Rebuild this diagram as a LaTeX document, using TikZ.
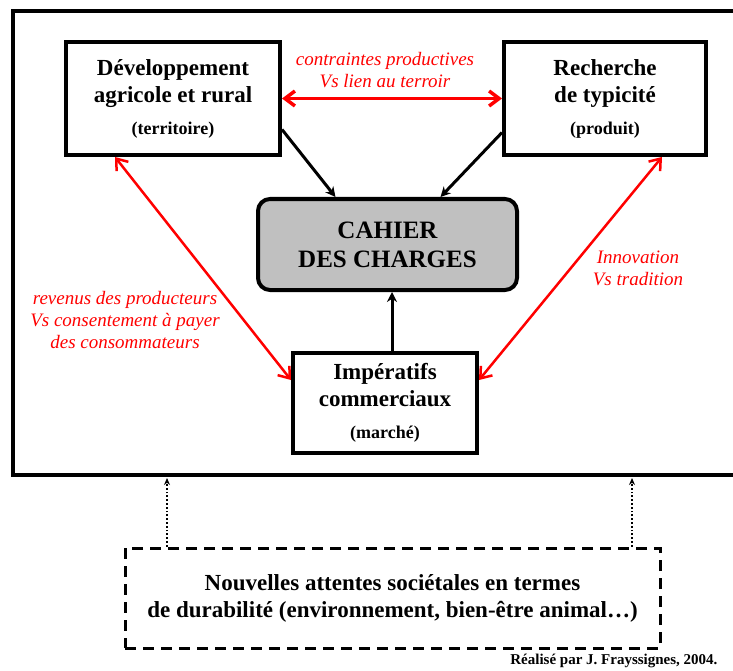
\documentclass[tikz,border=0pt]{standalone}
\usepackage{fontspec}
\setmainfont{Liberation Serif}
\definecolor{cdcred}{RGB}{255,0,0}
\definecolor{cdcgray}{RGB}{192,192,192}
\usetikzlibrary{arrows.meta,positioning}

\begin{document}
\begin{tikzpicture}[x=1pt,y=-1pt,
  pole/.style={draw, line width=4pt, fill=white, align=center, inner sep=0pt,
    font=\bfseries\fontsize{23}{27}\selectfont},
  conflit/.style={cdcred, align=center, font=\itshape\fontsize{19}{22}\selectfont},
  redlink/.style={cdcred, line width=2.5pt, {Straight Barb[length=10pt,width=15pt]}-{Straight Barb[length=10pt,width=15pt]}},
  blacklink/.style={black, line width=3pt, -{Stealth[length=10pt,width=10pt]}}]
\useasboundingbox (0,0) rectangle (733,671);
% cadre du systeme
\draw[line width=4pt] (740,11) -- (13,11) -- (13,475) -- (740,475);
% les trois poles
\node[pole, minimum width=214, minimum height=113] (dev) at (173,98.5)
  {D\'eveloppement\\agricole et rural\\[5pt]{\fontsize{18}{21}\selectfont(territoire)}};
\node[pole, minimum width=202, minimum height=113] (typi) at (605,98.5)
  {Recherche\\de typicit\'e\\[5pt]{\fontsize{18}{21}\selectfont(produit)}};
\node[pole, minimum width=184, minimum height=100] (imper) at (385,403)
  {Imp\'eratifs\\commerciaux\\[5pt]{\fontsize{18}{21}\selectfont(march\'e)}};
\node[pole, fill=cdcgray, rounded corners=12pt, minimum width=259, minimum height=91,
      font=\bfseries\fontsize{25}{29}\selectfont] (cahier) at (387.5,244.5) {CAHIER\\DES CHARGES};
% tensions
\draw[redlink, line width=3.5pt] (dev.east) -- (typi.west);
\draw[redlink] ([xshift=51pt]dev.south west) -- ([yshift=23pt]imper.west);
\draw[redlink] ([xshift=-46pt]typi.south east) -- ([yshift=23pt]imper.east);
\node[conflit] (t1) at (385,70) {contraintes productives\\Vs lien au terroir};
\node[conflit] (t2) at (125,320) {revenus des producteurs\\Vs consentement \`a payer\\des consommateurs};
\node[conflit] (t3) at (638,268) {Innovation\\Vs tradition};
% vers le cahier des charges
\draw[blacklink] ([yshift=-31pt]dev.east) -- ([xshift=-52pt]cahier.north);
\draw[blacklink] ([yshift=-34pt]typi.west) -- ([xshift=53pt]cahier.north);
\draw[blacklink] ([xshift=7pt]imper.north) -- ([xshift=7pt]imper.north |- cahier.south);
% attentes societales
\node[draw, line width=3pt, dash pattern=on 11pt off 7pt, align=center, inner sep=0pt,
      minimum width=535, minimum height=100, font=\bfseries\fontsize{23}{27}\selectfont]
  (attentes) at (392.5,598)
  {Nouvelles attentes soci\'etales en termes\\de durabilit\'e (environnement, bien-\^etre animal\dots)};
\coordinate (c1) at (167,478);
\coordinate (c2) at (632,478);
\draw[line width=1.8pt, dotted, -{Stealth[length=7pt,width=6pt]}] (attentes.north -| c1) -- (c1);
\draw[line width=1.8pt, dotted, -{Stealth[length=7pt,width=6pt]}] (attentes.north -| c2) -- (c2);
\node[anchor=east, font=\bfseries\fontsize{15}{17}\selectfont] (credit) at (721,661)
  {R\'ealis\'e par J. Frayssignes, 2004.};
\end{tikzpicture}
\end{document}
